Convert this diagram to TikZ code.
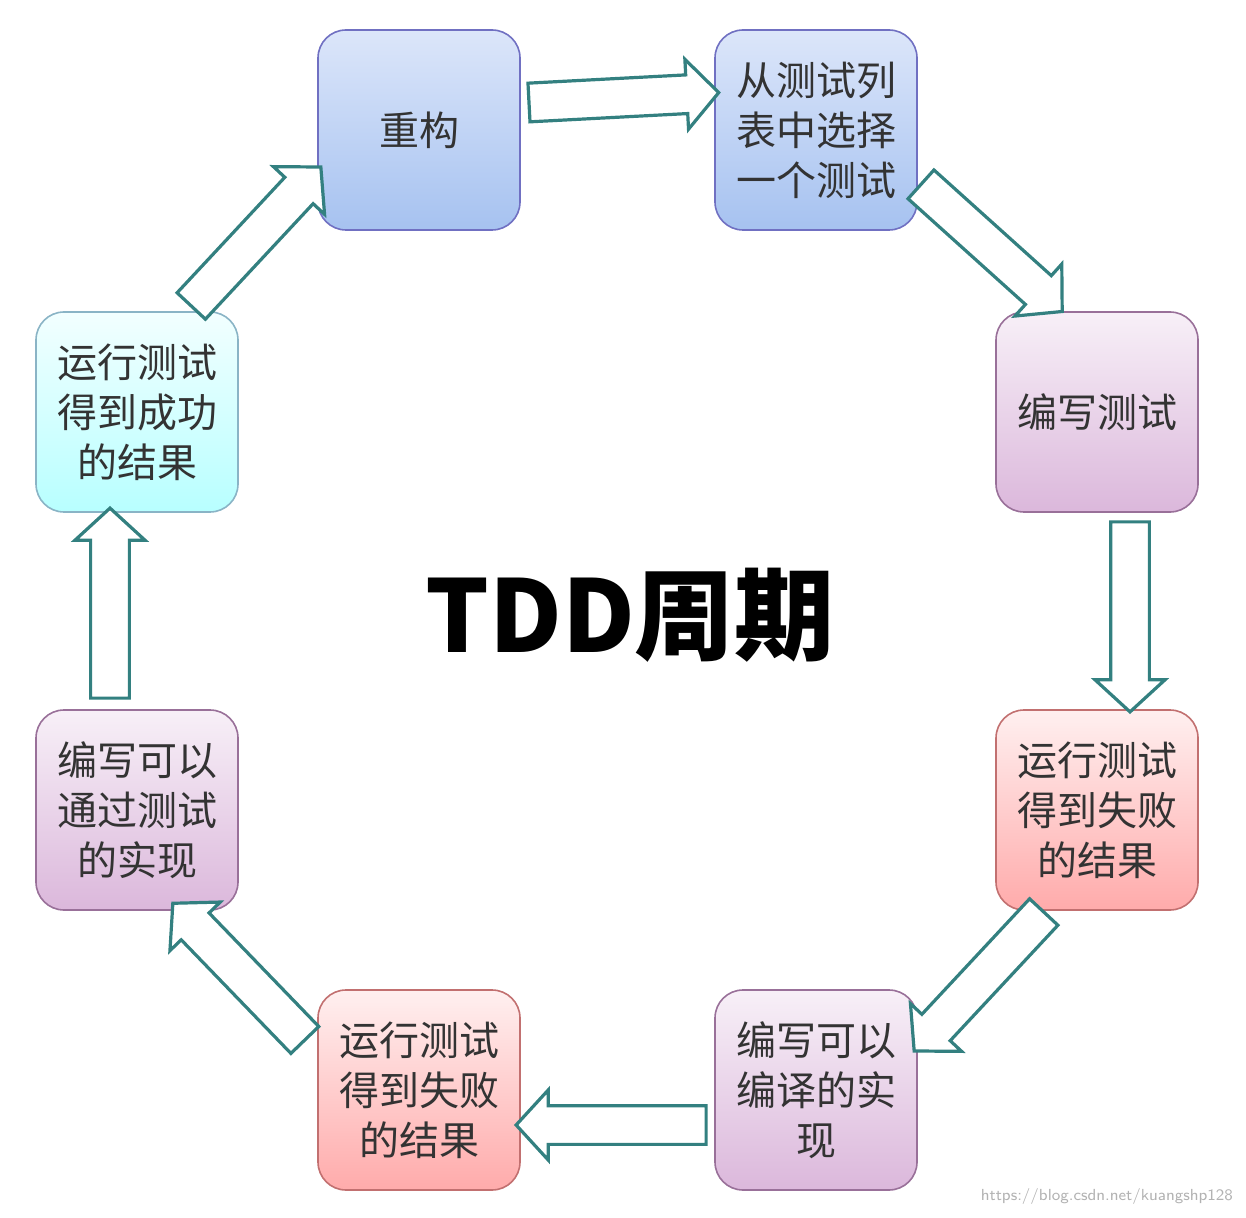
\documentclass[tikz,border=0pt]{standalone}
\usepackage{fontspec}
\newfontfamily\cjk{Noto Sans CJK SC}
\usetikzlibrary{shapes.arrows}
\definecolor{bltop}{HTML}{DCE6FA}
\definecolor{blbot}{HTML}{A6C2F0}
\tikzset{
 box/.style={draw=#1!40!gray!80, line width=0.8pt, rounded corners=14pt, minimum width=101pt, minimum height=100pt, align=center, font=\cjk\fontsize{20}{25}\selectfont, text=black!80},
 bluebox/.style={box=blue, top color=bltop, bottom color=blbot},
 purplebox/.style={box=violet, top color=violet!6, bottom color=violet!28},
 redbox/.style={box=red, top color=red!6, bottom color=red!33},
 cyanbox/.style={box=cyan, top color=cyan!5, bottom color=cyan!28},
 arr/.style={single arrow, draw=teal!60!gray, fill=white, line width=1.6pt, minimum width=35pt, single arrow tip angle=95, inner xsep=0pt, inner ysep=8pt},
}
\begin{document}
\begin{tikzpicture}[x=0.5pt,y=-0.5pt]
\useasboundingbox (0,0) rectangle (1246,1218);
\node[bluebox] (b1) at (419,130) {重构};
\node[bluebox] (b2) at (816,130) {从测试列\\表中选择\\一个测试};
\node[purplebox] (b3) at (1097,412) {编写测试};
\node[redbox] (b4) at (1097,810) {运行测试\\得到失败\\的结果};
\node[purplebox] (b5) at (816,1090) {编写可以\\编译的实\\现};
\node[redbox] (b6) at (419,1090) {运行测试\\得到失败\\的结果};
\node[purplebox] (b7) at (137,810) {编写可以\\通过测试\\的实现};
\node[cyanbox] (b8) at (137,412) {运行测试\\得到成功\\的结果};
\node[font=\cjk\bfseries\fontsize{50}{60}\selectfont] (t) at (630,615) {TDD周期};
\node[arr, minimum height=95pt, rotate=3] (a1) at (615,98) {};
\node[arr, minimum height=95pt, rotate=-42] (a2) at (985,242) {};
\node[arr, minimum height=95pt, rotate=-90] (a3) at (1130,608) {};
\node[arr, minimum height=95pt, rotate=-133] (a4) at (985,975) {};
\node[arr, minimum height=95pt, rotate=180] (a5) at (620,1125) {};
\node[arr, minimum height=95pt, rotate=134] (a6) at (245,978) {};
\node[arr, minimum height=95pt, rotate=90] (a7) at (110,612) {};
\node[arr, minimum height=95pt, rotate=47] (a8) at (250,243) {};
\node[anchor=south east, text=black!30, font=\sffamily\fontsize{8}{9}\selectfont] (w) at (1240,1212) {https://blog.csdn.net/kuangshp128};
\end{tikzpicture}
\end{document}
